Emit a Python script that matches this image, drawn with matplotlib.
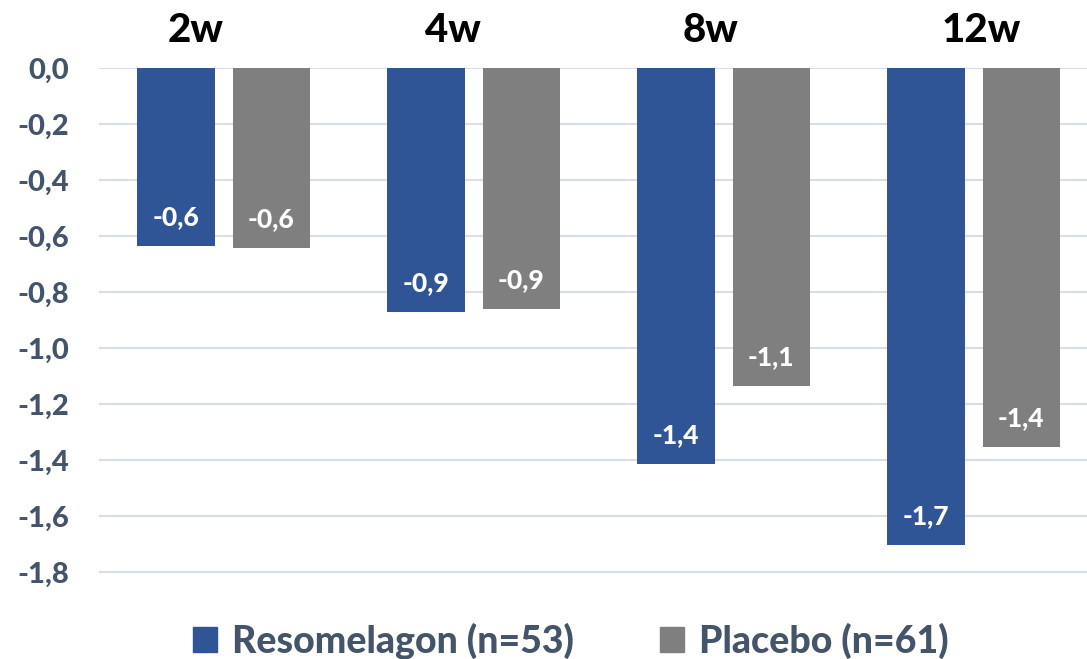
import matplotlib
matplotlib.use("Agg")
import matplotlib.pyplot as plt
from matplotlib.patches import Patch
import numpy as np

categories = ["2w", "4w", "8w", "12w"]
resomelagon = [-0.636, -0.871, -1.414, -1.704]
placebo = [-0.643, -0.861, -1.136, -1.354]
series_names = ["Resomelagon (n=53)", "Placebo (n=61)"]
yticks = [0.0, -0.2, -0.4, -0.6, -0.8, -1.0, -1.2, -1.4, -1.6, -1.8]

plt.rcParams['font.family'] = ['Lato', 'DejaVu Sans']

BLUE = "#2F5597"
GRAY = "#7F7F7F"
TXT = "#44546A"
WT = 'black'

W, H = 1087, 659
fig = plt.figure(figsize=(W/100, H/100), dpi=100)
ax = fig.add_axes([98.5/W, 1 - 600/H, 1000/W, 532/H])

x = np.arange(len(categories))
bw = 0.31
off = 0.191
b1 = ax.bar(x - off, resomelagon, bw, color=BLUE, zorder=3)
b2 = ax.bar(x + off, placebo, bw, color=GRAY, zorder=3)

for bars, vals in ((b1, resomelagon), (b2, placebo)):
    for rect, v in zip(bars, vals):
        ax.annotate(f"{v:.1f}".replace('.', ','),
                    (rect.get_x() + rect.get_width()/2, v),
                    xytext=(0, 21), textcoords='offset points',
                    ha='center', va='center', color='white',
                    fontsize=19, fontweight=WT, zorder=4)

# category headers (free text boxes, slightly off-centre as in the source)
header_shift = [-0.112, -0.084, -0.052, 0.032]
for xi, lab, sh in zip(x, categories, header_shift):
    ax.text(xi + sh, 1 + 38/532, lab, transform=ax.get_xaxis_transform(),
            ha='center', va='center', fontsize=29, fontweight=WT,
            color='black')

ax.set_xlim(-0.5, len(categories) - 0.5)
ax.set_ylim(-1.9, 0)
ax.set_xticks([])
ax.set_yticks(yticks)
ax.set_yticklabels([f"{t:.1f}".replace('.', ',') for t in yticks])
ax.tick_params(axis='y', length=0, pad=21, labelsize=21, labelcolor=TXT)
for lab in ax.get_yticklabels():
    lab.set_fontweight(WT)
for s in ax.spines.values():
    s.set_visible(False)
ax.yaxis.grid(True, color="#D9DEE6", linewidth=1.5, zorder=0)
ax.set_axisbelow(True)

handles = [Patch(color=BLUE), Patch(color=GRAY)]
leg = fig.legend(handles, series_names, loc='center', bbox_to_anchor=(0.525, 1 - 641/H),
                 ncol=2, frameon=False, handlelength=0.64, handleheight=0.67,
                 handletextpad=0.4, columnspacing=2.3, labelcolor=TXT,
                 prop={'weight': WT, 'size': 27})

fig.savefig("out.png", dpi=100)
